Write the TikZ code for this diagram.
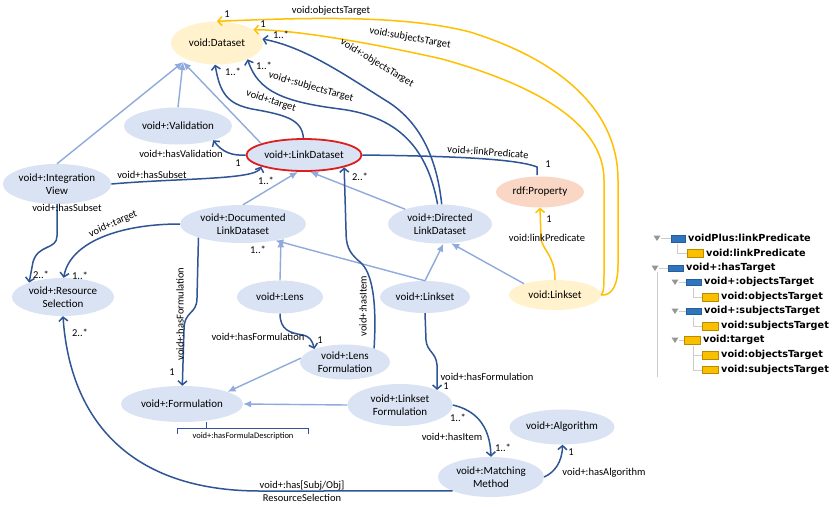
\documentclass[tikz,border=0pt]{standalone}
\usepackage{fontspec}
\setmainfont{Carlito}
\newfontfamily\legfont{DejaVu Sans}
\usetikzlibrary{shapes.geometric,arrows.meta}
\definecolor{nb}{RGB}{218,227,243}
\definecolor{ny}{RGB}{255,242,204}
\definecolor{np}{RGB}{250,215,196}
\definecolor{db}{RGB}{47,85,151}
\definecolor{lb}{RGB}{143,170,220}
\definecolor{gold}{RGB}{255,192,0}
\definecolor{rd}{RGB}{222,30,30}
\definecolor{legblue}{RGB}{46,117,190}
\definecolor{legyel}{RGB}{250,192,0}
\definecolor{legyd}{RGB}{185,140,0}
\definecolor{treec}{RGB}{205,205,205}
\definecolor{tric}{RGB}{150,150,150}
\begin{document}
\begin{tikzpicture}[x=1pt,y=-1pt,
 ent/.style={ellipse,fill=nb,draw=none,inner sep=0pt,align=center,font=\fontsize{11}{13}\selectfont},
 gen/.style={draw=lb,line width=1.4pt,-{Latex[length=8pt,width=7pt]}},
 assoc/.style={draw=db,line width=1.5pt,-{Straight Barb[length=4pt,width=9pt]}},
 yel/.style={draw=gold,line width=1.5pt,-{Straight Barb[length=4pt,width=9pt]}},
 lbl/.style={inner sep=0pt,font=\fontsize{10.5}{12.5}\selectfont},
 legtxt/.style={anchor=west,inner sep=0pt,font=\legfont\bfseries\fontsize{9.7}{11}\selectfont},
 bluebox/.style={fill=legblue,draw=legblue!80!black,line width=0.4pt},
 yelbox/.style={fill=legyel,draw=legyd,line width=0.5pt},
 treeln/.style={draw=treec,line width=0.8pt},
 tri/.style={fill=tric,draw=none}
]
\useasboundingbox (0,0) rectangle (840,506);
\fill[white] (0,0) rectangle (840,506);

% ---------- nodes ----------
\node[ent,minimum width=92pt,minimum height=43pt,fill=ny] (ds) at (217,43) {void:Dataset};
\node[ent,minimum width=108pt,minimum height=37pt] (val) at (178,126) {void+:Validation};
\node[ent,minimum width=115pt,minimum height=32pt,draw=rd,line width=1.8pt] (ld) at (304,155) {void+:LinkDataset};
\node[ent,minimum width=108pt,minimum height=40pt] (iv) at (57,184) {void+:Integration\\View};
\node[ent,minimum width=126pt,minimum height=38pt] (dld) at (243,224) {void+:Documented\\LinkDataset};
\node[ent,minimum width=104pt,minimum height=39pt] (dir) at (440,224) {void+:Directed\\LinkDataset};
\node[ent,minimum width=88pt,minimum height=31pt,fill=np] (prop) at (540,192) {rdf:Property};
\node[ent,minimum width=102pt,minimum height=38pt] (rs) at (63,297) {void+:Resource\\Selection};
\node[ent,minimum width=86pt,minimum height=33pt] (lens) at (280,297) {void+:Lens};
\node[ent,minimum width=90pt,minimum height=32pt] (ls) at (425,297) {void+:Linkset};
\node[ent,minimum width=92pt,minimum height=30pt,fill=ny] (vls) at (555,295) {void:Linkset};
\node[ent,minimum width=90pt,minimum height=35pt] (lf) at (345,362) {void+:Lens\\Formulation};
\node[ent,minimum width=122pt,minimum height=36pt] (form) at (182,404) {void+:Formulation};
\node[ent,minimum width=105pt,minimum height=42pt] (lsf) at (400,405) {void+:Linkset\\Formulation};
\node[ent,minimum width=105pt,minimum height=35pt] (alg) at (562,427) {void+:Algorithm};
\node[ent,minimum width=106pt,minimum height=40pt] (mm) at (491,477) {void+:Matching\\Method};

% ---------- generalizations ----------
\coordinate (dsg) at (183,62);
\draw[gen] (iv.north) -- (dsg);
\draw[gen] (val.north) -- (dsg);
\draw[gen] (ld.165) -- (dsg);
\draw[gen] (dld.north) -- (ld.250);
\draw[gen] (dir.157) -- (ld.290);
\draw[gen] (lens.north) -- (dld.338);
\draw[gen] (ls.north) -- (dld.333);
\draw[gen] (ls.north) -- (dir.280);
\draw[gen] (vls.160) -- (dir.300);
\draw[gen] (lf.175) -- (form.15);
\draw[gen] (lsf.west) -- (form.east);

% ---------- associations ----------
\draw[assoc] (ld.west) .. controls (232,156) and (222,152) .. (val.338);
\draw[assoc] (ld.92) .. controls (302,120) and (287,115) .. (252,109) .. controls (228,104) and (220,94) .. (ds.265);
\draw[assoc] (dir.97) .. controls (428,152) and (402,117) .. (340,109) .. controls (285,102) and (258,92) .. (ds.332);
\draw[assoc] (dir.85) .. controls (436,150) and (415,118) .. (385,100) .. controls (345,75) and (305,47) .. (ds.5);
\draw[assoc] (iv.east) .. controls (180,178) and (256,180) .. (ld.195);
\draw[assoc] (iv.south) -- (57,236) .. controls (57,250) and (38,244) .. (33,262) -- (rs.157);
\draw[assoc] (dld.west) .. controls (120,224) and (70,242) .. (rs.88);
\draw[assoc] (dld.197) -- (197,298) .. controls (197,315) and (184,310) .. (184,330) -- (form.89);
\draw[assoc] (lens.south) .. controls (280,330) and (290,333) .. (303,335) .. controls (310,337) and (312,340) .. (lf.157);
\draw[assoc] (lf.25) .. controls (377,300) and (372,272) .. (360,262) .. controls (348,252) and (346,245) .. (346,230) -- (ld.343);
\draw[assoc] (ls.south) -- (426,340) .. controls (427,352) and (436,352) .. (437,365) -- (lsf.22);
\draw[assoc] (lsf.east) .. controls (475,410) and (490,425) .. (mm.north);
\draw[assoc] (mm.east) .. controls (555,472) and (562,462) .. (alg.272);
\draw[assoc] (mm.200) -- (260,491) .. controls (130,491) and (70,420) .. (rs.270);
\coordinate (lpend) at (537,175);
\draw[draw=db,line width=1.5pt] (ld.east) .. controls (440,156) and (515,158) .. (537,167) -- (lpend);

% ---------- yellow ----------
\draw[yel] (vls.north) .. controls (555,255) and (542,250) .. (541,238) -- (prop.270);
\draw[yel] (vls.east) .. controls (604,292) and (604,285) .. (604,270) -- (604,180) .. controls (604,122) and (532,84) .. (442,59) .. controls (380,45) and (300,30) .. (ds.20);
\draw[yel] (vls.east) .. controls (612,296) and (618,285) .. (618,265) -- (618,180) .. controls (618,110) and (560,60) .. (470,32) .. controls (400,14) and (300,18) .. (ds.north);

% ---------- labels ----------
\node[lbl] (lHasVal) at (181,154) {void+:hasValidation};
\node[lbl] (m1) at (238,163) {1};
\node[lbl,rotate=-18] (lTarget) at (271,101) {void+:target};
\node[lbl] (m2) at (233,72) {1..*};
\node[lbl,rotate=-16] (lSubj) at (311,87) {void+:subjectsTarget};
\node[lbl] (m3) at (264,66) {1..*};
\node[lbl,rotate=-31] (lObj) at (377,63) {void+:objectsTarget};
\node[lbl] (m4) at (281,35) {1..*};
\node[lbl] (lSub1) at (152,175) {void+:hasSubset};
\node[lbl] (m5) at (266,181) {1..*};
\node[lbl] (lSub2) at (67,208) {void+:hasSubset};
\node[lbl] (m6) at (41,275) {2..*};
\node[lbl,rotate=24] (lTarget2) at (113,224) {void+:target};
\node[lbl] (m7) at (80,276) {1..*};
\node[lbl,rotate=90] (lHasF1) at (180,314) {void+:hasFormulation};
\node[lbl] (m8) at (172,372) {1};
\node[lbl] (m9) at (258,250) {1..*};
\node[lbl] (lHasF2) at (258,337) {void+:hasFormulation};
\node[lbl] (m10) at (320,340) {1};
\node[lbl,rotate=90] (lHasItem) at (363,306) {void+:hasItem};
\node[lbl] (m11) at (360,177) {2..*};
\node[lbl] (lHasF3) at (487,377) {void+:hasFormulation};
\node[lbl] (m12) at (446,386) {1};
\node[lbl] (lHasItem2) at (452,437) {void+:hasItem};
\node[lbl] (m13) at (458,418) {1..*};
\node[lbl] (m14) at (503,448) {1..*};
\node[lbl] (lAlg) at (604,473) {void+:hasAlgorithm};
\node[lbl] (m15) at (571,452) {1};
\node[lbl,align=center] (lRS) at (302,491) {void+:has[Subj/Obj]\\ResourceSelection};
\node[lbl] (m16) at (80,333) {2..*};
\node[lbl,rotate=-4] (lLP) at (488,152) {void+:linkPredicate};
\node[lbl] (m17) at (548,164) {1};
\node[lbl] (lLP2) at (547,238) {void:linkPredicate};
\node[lbl] (m18) at (549,219) {1};
\node[lbl,rotate=-10] (lST) at (410,38) {void:subjectsTarget};
\node[lbl] (m19) at (263,24) {1};
\node[lbl] (lOT) at (331,11) {void:objectsTarget};
\node[lbl] (m20) at (227,14) {1};

% formula description bracket
\node[inner sep=0pt,font=\fontsize{8.5}{10}\selectfont] (fd) at (243,436) {void+:hasFormulaDescription};
\draw[db,line width=0.6pt] (177,434) -- (177,428) -- (308,428) -- (308,434);
\draw[db,line width=0.6pt] (206,422) -- (206,428);

% ---------- legend ----------
\draw[treeln] (657,272) -- (657,377);
% row 1
\fill[tri] (653.5,235.5) -- (660.5,235.5) -- (657,241) -- cycle;
\draw[treeln] (661,238) -- (671,238);
\draw[bluebox] (671,235) rectangle (685,242);
\node[legtxt] (t1) at (688,238) {voidPlus:linkPredicate};
% row 2
\draw[treeln] (677,244) -- (677,253) -- (687,253);
\draw[yelbox] (687,249.5) rectangle (703,257);
\node[legtxt] (t2) at (706,253) {void:linkPredicate};
% row 3
\fill[tri] (651.5,265.5) -- (658.5,265.5) -- (655,271) -- cycle;
\draw[treeln] (659,268) -- (668,268);
\draw[bluebox] (668,265) rectangle (683,271.5);
\node[legtxt] (t3) at (686,268) {void+:hasTarget};
% row 4
\fill[tri] (671.5,279.5) -- (678.5,279.5) -- (675,285) -- cycle;
\draw[treeln] (679,282) -- (686,282);
\draw[bluebox] (686,279) rectangle (701,285.5);
\node[legtxt] (t4) at (704,282) {void+:objectsTarget};
% row 5
\draw[treeln] (693,288) -- (693,297) -- (702,297);
\draw[yelbox] (702,293.5) rectangle (718,301);
\node[legtxt] (t5) at (721,297) {void:objectsTarget};
% row 6
\fill[tri] (671.5,308.5) -- (678.5,308.5) -- (675,314) -- cycle;
\draw[treeln] (679,311) -- (686,311);
\draw[bluebox] (686,308) rectangle (701,314.5);
\node[legtxt] (t6) at (704,311) {void+:subjectsTarget};
% row 7
\draw[treeln] (693,317) -- (693,326) -- (702,326);
\draw[yelbox] (702,322.5) rectangle (718,330);
\node[legtxt] (t7) at (721,326) {void:subjectsTarget};
% row 8
\fill[tri] (671.5,337.5) -- (678.5,337.5) -- (675,343) -- cycle;
\draw[treeln] (679,340) -- (684,340);
\draw[yelbox] (684,336.5) rectangle (700,344);
\node[legtxt] (t8) at (703,340) {void:target};
% rows 9, 10
\draw[treeln] (693,346) -- (693,370) -- (702,370);
\draw[treeln] (693,355) -- (702,355);
\draw[yelbox] (702,351.5) rectangle (718,359);
\node[legtxt] (t9) at (721,355) {void:objectsTarget};
\draw[yelbox] (702,366) rectangle (718,373.5);
\node[legtxt] (t10) at (721,370) {void:subjectsTarget};
\end{tikzpicture}
\end{document}
